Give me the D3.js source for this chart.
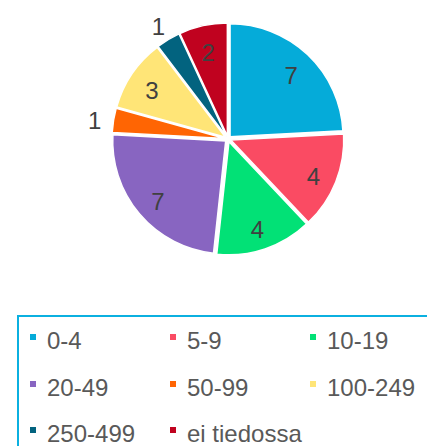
<!DOCTYPE html>
<html>
<head>
<meta charset="utf-8">
<script src="https://cdn.jsdelivr.net/npm/d3@7"></script>
<style>
  html, body { margin: 0; padding: 0; background: #fff; }
  svg { display: block; }
</style>
</head>
<body>
<svg id="chart" width="427" height="446"></svg>
<script>
// Company size classes (employees) and number of companies in each
const categories = ["0-4", "5-9", "10-19", "20-49", "50-99", "100-249", "250-499", "ei tiedossa"];
const counts = [7, 4, 4, 7, 1, 3, 1, 2];
const colors = ["#05abd9", "#fa4b63", "#02e176", "#8865c1", "#ff6503", "#ffe577", "#02637f", "#c0021f"];
// Small slices get their value printed outside the pie
const outsideLabel = [false, false, false, false, true, false, true, false];

const svg = d3.select("#chart");
const cx = 228, cy = 139, R = 113, explode = 3;

const data = categories.map((c, i) => ({ cat: c, value: counts[i], color: colors[i], outside: outsideLabel[i] }));

const pie = d3.pie().value(d => d.value).sort(null);
const arcs = pie(data);
const arc = d3.arc().innerRadius(0).outerRadius(R);
const inLabel = d3.arc().innerRadius(92).outerRadius(92);
const outLabel = d3.arc().innerRadius(135).outerRadius(135);

const g = svg.append("g").attr("transform", `translate(${cx},${cy})`);

g.selectAll("path.slice")
  .data(arcs)
  .join("path")
  .attr("class", "slice")
  .attr("d", arc)
  .attr("fill", d => d.data.color)
  .attr("stroke", "#fff")
  .attr("stroke-width", 1.5)
  .attr("transform", d => {
    const a = (d.startAngle + d.endAngle) / 2;
    return `translate(${Math.sin(a) * explode},${-Math.cos(a) * explode})`;
  });

g.selectAll("text.val")
  .data(arcs)
  .join("text")
  .attr("class", "val")
  .attr("transform", d => `translate(${(d.data.outside ? outLabel : inLabel).centroid(d)})`)
  .attr("text-anchor", "middle")
  .attr("dy", "0.48em")
  .attr("font-family", "Liberation Sans, Arial, sans-serif")
  .attr("font-size", 24)
  .attr("fill", "#404040")
  .text(d => d.data.value);

// Legend box, running off the right and bottom edges
svg.append("rect")
  .attr("x", 18).attr("y", 316)
  .attr("width", 430).attr("height", 200)
  .attr("fill", "none")
  .attr("stroke", "#0bb0e0")
  .attr("stroke-width", 2);

const colX = [30, 170, 310];
const rowY = [349, 396, 442];

const items = svg.append("g").selectAll("g.item")
  .data(data)
  .join("g")
  .attr("class", "item")
  .attr("transform", (d, i) => `translate(${colX[i % 3]},${rowY[Math.floor(i / 3)]})`);

items.append("rect")
  .attr("x", 0).attr("y", -15)
  .attr("width", 6).attr("height", 6)
  .attr("fill", d => d.color);

items.append("text")
  .attr("x", 17)
  .attr("y", 0)
  .attr("font-family", "Liberation Sans, Arial, sans-serif")
  .attr("font-size", 24)
  .attr("fill", "#595959")
  .text(d => d.cat);
</script>
</body>
</html>
